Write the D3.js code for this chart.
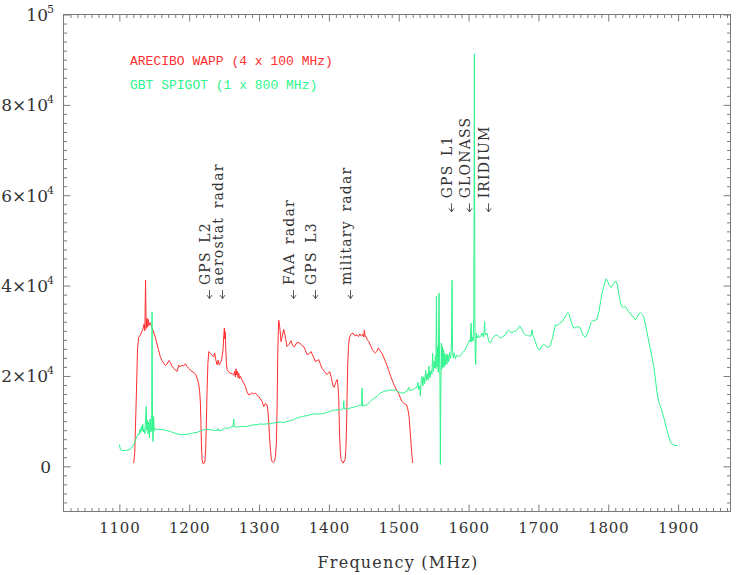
<!DOCTYPE html>
<html><head><meta charset="utf-8">
<script src="https://cdn.jsdelivr.net/npm/d3@7"></script>
<style>html,body{margin:0;padding:0;background:#fff;}</style>
</head><body><div id="chart"></div>
<script>
// ---------------- data ----------------
const xDomain = [1020, 1975];
const yDomain = [-10000, 100000];
const xMajorTicks = [1100, 1200, 1300, 1400, 1500, 1600, 1700, 1800, 1900];
const yMajorTicks = [0, 20000, 40000, 60000, 80000, 100000];
const yTickLabels = [["0", ""], ["2\u00d710", "4"], ["4\u00d710", "4"], ["6\u00d710", "4"], ["8\u00d710", "4"], ["10", "5"]];
const xLabel = "Frequency (MHz)";
const seriesNames = ["ARECIBO WAPP (4 x 100 MHz)", "GBT SPIGOT (1 x 800 MHz)"];
const seriesColors = ["#ff2e2e", "#2ef58c"];

const annoLabels = ["GPS L2", "aerostat radar", "FAA radar", "GPS L3", "military radar", "GPS L1", "GLONASS", "IRIDIUM"];
const annoFreqs  = [1228, 1246.5, 1349, 1380, 1430, 1575, 1601, 1628];
const annoLevels = [39000, 39000, 39000, 39000, 39000, 58200, 58200, 58200];

const arecibo = [
[1120.5,700],[1122,3000],[1124,14000],[1126,26000],[1127.5,28500],[1130,29000],[1132,29800],[1134,30500],
[1135.5,31500],[1136.5,30000],[1137.5,41200],[1138.3,30500],[1139.5,32800],[1140.5,30800],[1141.5,32500],
[1142.5,31200],[1144,31800],[1146,31000],[1148,30200],[1151,28800],[1154,27000],[1156,25800],[1158.5,24300],
[1161,23400],[1163.5,22800],[1166,22300],[1168,22600],[1171,23400],[1173,23000],[1175,22200],[1177.8,21700],
[1180,21300],[1182.6,21000],[1185,22400],[1187,22000],[1189.8,22400],[1192,22200],[1194.5,22700],[1197,22100],
[1199.3,21700],[1202,21200],[1204,21000],[1207,20700],[1209,20400],[1211,19600],[1213.5,18400],[1215,16500],
[1216,14000],[1216.8,9500],[1217.5,5000],[1218.4,1500],[1219.5,700],[1221,600],[1222.5,1200],[1223.6,4000],
[1224.6,10000],[1225.6,17000],[1226.8,22800],[1228,25400],[1230.3,25000],[1232.5,24600],[1235,24200],
[1236.5,25100],[1238,23600],[1239.9,22500],[1241.5,23500],[1243,22400],[1244.6,22900],[1246.5,23600],
[1248.4,25800],[1249.5,29000],[1250.3,30600],[1251,28200],[1251.6,29800],[1252.2,26500],[1253.2,23000],
[1254.2,21400],[1256.5,20900],[1259,20600],[1261.5,20500],[1263.7,20200],[1265,21000],[1266,19800],
[1267,21600],[1268,20200],[1269,21000],[1270,19600],[1271,20600],[1272,19400],[1273.5,19900],[1275.6,19100],
[1278,18400],[1280.4,17700],[1282.5,16600],[1285.1,15800],[1287,15900],[1290,16300],[1292,16000],
[1294.8,16200],[1297,15800],[1299.5,15500],[1302,14900],[1304.3,14400],[1306.7,13200],[1309,13900],
[1311.5,13600],[1312.8,12000],[1313.9,9600],[1315,6500],[1316.3,3700],[1317.5,1800],[1318.6,1100],
[1320.3,800],[1322,1100],[1323.5,2200],[1324.8,5200],[1325.8,13000],[1326.7,24300],[1327.6,30000],
[1328.2,32300],[1329.5,31000],[1331.5,27600],[1333.5,29000],[1335.3,30300],[1337.5,28800],[1340,26500],
[1343,27000],[1345.8,27800],[1348,26800],[1350.6,26400],[1354,27400],[1358.2,27300],[1361,26800],
[1363.9,26500],[1366,25800],[1368.7,24700],[1371.5,24900],[1374.5,25400],[1377.5,24300],[1380.6,23200],
[1383,23400],[1385.4,23600],[1387.8,22600],[1390.2,21700],[1393.5,21000],[1397.3,20300],[1399.5,20700],
[1401.1,21000],[1403,19900],[1404.5,18800],[1406.3,17600],[1407.8,17500],[1409.5,18500],[1411.7,19200],
[1413,17800],[1414,15500],[1414.8,10000],[1415.5,5900],[1416.5,3000],[1417.4,1500],[1420.3,700],
[1423.2,1500],[1424.2,3500],[1425,7400],[1426,15000],[1426.9,22100],[1428,26500],[1429.3,28400],
[1431.5,29200],[1434.6,29500],[1437,28900],[1440.3,29100],[1442.5,28700],[1444.5,29300],[1446.5,28800],
[1448.9,29300],[1450,28600],[1450.8,30200],[1451.8,28800],[1453.2,28700],[1455,28000],[1457,27600],
[1460,26600],[1462,25900],[1464.2,25400],[1466.5,25100],[1468.5,25400],[1470.9,26200],[1473.5,25500],
[1476.1,25000],[1478,24300],[1480.9,23200],[1483.2,22300],[1485.2,21400],[1488.5,19900],[1492.3,18400],
[1495.5,17300],[1499.5,16200],[1502,15300],[1504.2,14400],[1507.5,13900],[1511.4,13600],[1513.2,12500],
[1514.8,11000],[1516,8500],[1517.2,5900],[1518.5,3000],[1520,750]
];

const gbt = [
[1100,4800],[1101.5,3700],[1105,3500],[1110,3500],[1114,3700],[1117,4000],[1120.5,4800],[1123,5800],
[1125.3,6600],[1127,7200],[1128.5,7000],[1129.5,8200],[1130.5,7500],[1131.5,8800],[1132.5,7800],
[1133.5,9300],[1134.5,7600],[1135.5,8300],[1136.5,7200],[1137.5,10500],[1138.5,13300],[1139.3,8000],
[1140.2,10200],[1141,7200],[1142,9800],[1143,6300],[1144,10500],[1145,7600],[1146.2,8500],[1146.8,34200],
[1147.5,8000],[1148.2,5500],[1149,11000],[1150,7800],[1151.5,8400],[1154,8100],[1158,8200],[1163.5,8100],
[1168,7900],[1173,7700],[1178,7400],[1182.6,7200],[1187,7000],[1192,7000],[1197,7100],[1201.6,7200],
[1206,7400],[1211.2,7500],[1216,7800],[1220.7,8100],[1225,8200],[1230.3,8100],[1235,8000],[1239.9,7900],
[1241,8400],[1242,7900],[1247,8000],[1251.8,8600],[1254,8300],[1259,8700],[1262.8,8800],[1263.7,10500],
[1264.5,8700],[1268,8700],[1273.3,8800],[1278,8800],[1282.9,8800],[1287,9000],[1292.3,9200],[1297,9200],
[1302,9400],[1306,9300],[1311.5,9400],[1316,9400],[1321,9600],[1326,9700],[1330.7,9800],[1335,9700],
[1340,9900],[1345,10100],[1349.7,10300],[1354,10700],[1359.2,10900],[1364,11100],[1368.7,11200],
[1373,11400],[1378.2,11600],[1383,11600],[1387.8,11600],[1392,11700],[1397.3,11900],[1402,12200],
[1406.9,12400],[1411.7,12500],[1416.4,12500],[1420.5,12800],[1421.2,14500],[1422,12700],[1426,12700],
[1430.7,12900],[1435,13100],[1440.3,13300],[1444,13500],[1446.8,13500],[1447.5,17300],[1448.3,13300],
[1450,13400],[1454.6,13600],[1459.4,14400],[1464,15000],[1469,15500],[1473.7,16200],[1478.5,16600],
[1483,16700],[1488,16900],[1491.5,16800],[1495.2,16900],[1499,16500],[1502.3,16300],[1507.1,16200],
[1510,16500],[1512.5,16700],[1514.3,17500],[1515.5,16800],[1520,16900],[1524,17400],[1526.2,17500],
[1527.5,18600],[1528.5,17000],[1530,17800],[1531,15600],[1532.3,19500],[1533.4,19900],[1534.5,17800],
[1535.8,19800],[1537,18300],[1538.5,21300],[1539.5,19000],[1540.6,20500],[1542,19100],[1543.2,22200],
[1544.5,19600],[1546.3,21200],[1547.5,20400],[1548.5,25000],[1549.5,21000],[1550.5,23200],[1551.5,21800],
[1552.5,24500],[1553.3,21600],[1553.9,37600],[1554.8,22000],[1555.7,26400],[1556.6,20800],[1557.2,30600],
[1557.7,38300],[1558.4,24000],[1559,19500],[1559.6,400],[1560.2,16000],[1561,27300],[1561.7,21500],
[1562.5,26500],[1563.3,21800],[1564.2,25800],[1565,22000],[1566,25000],[1566.8,22400],[1568,24700],
[1569,22600],[1570.2,24800],[1571.5,23100],[1572.7,25200],[1573.8,23800],[1575,24900],[1575.8,30000],
[1576.4,41200],[1577,26000],[1578,24000],[1579.5,25100],[1581.1,23800],[1583,24600],[1585.5,24300],
[1588.3,24500],[1591,25100],[1593.5,25500],[1595.4,25900],[1597.5,26600],[1599.5,27300],[1601.6,28000],
[1602.5,27600],[1603.6,31700],[1604.5,27500],[1605.5,28600],[1606.5,27800],[1607.5,33000],[1608.3,91300],
[1609,32400],[1609.5,24500],[1610.2,22500],[1611,29500],[1612.2,28400],[1614,29000],[1615.5,28400],
[1616.9,28700],[1619,29500],[1621,28600],[1622.3,30000],[1623,32000],[1623.8,29000],[1626.5,29500],
[1628.8,27600],[1631.2,27300],[1633.5,28100],[1636,28700],[1638.5,29000],[1640.8,29100],[1643,28700],
[1645.5,28400],[1649,28700],[1652.7,29100],[1655,29800],[1657.4,30200],[1660,29700],[1662.3,29500],
[1664.5,29900],[1667,29800],[1670,30400],[1673.2,31100],[1675,30600],[1676.6,30200],[1679,29500],
[1681.3,29100],[1684,28900],[1686,28900],[1689,28800],[1690.9,30200],[1691.8,29000],[1693.5,28600],
[1695.6,27600],[1698,26500],[1700.4,25800],[1702.5,25900],[1705,26700],[1707.6,27000],[1710,26700],
[1712.3,26400],[1715,26400],[1717.1,26700],[1719,27800],[1720.4,28500],[1722.5,30200],[1724.3,31300],
[1727.5,31200],[1730,31600],[1733.9,32000],[1737.2,32800],[1740,33600],[1742.4,34000],[1743.4,33800],
[1745.8,32700],[1748,31500],[1750.5,30600],[1753,30700],[1755.3,30900],[1759.2,30800],[1762,29700],
[1764,29000],[1767.2,28500],[1769.5,29300],[1772,30200],[1775.4,31800],[1778,32200],[1781,32300],
[1784,32600],[1787,34500],[1789,36500],[1791.1,38300],[1793.5,39800],[1796.9,41500],[1799,41000],
[1801.5,40000],[1804,39600],[1806.5,40200],[1809,40800],[1811.2,40900],[1813,40200],[1815,38300],
[1817.5,36200],[1819.8,35300],[1822,35200],[1824.5,35400],[1826.9,34800],[1829,34200],[1831.7,33900],
[1834,33300],[1836.5,32900],[1838.8,32400],[1841,32900],[1843.5,33700],[1846,34000],[1848.5,33600],
[1850.8,33100],[1853,31500],[1855.5,29600],[1858,27600],[1860.5,25800],[1863,23800],[1865.1,22100],
[1867.5,19300],[1869.9,16200],[1872,14500],[1874.6,13300],[1877.5,11900],[1880.4,10300],[1883.5,8300],
[1886.5,6600],[1889,5400],[1891.3,4900],[1894,4700],[1897,4600],[1899.4,4600]
];

// ---------------- drawing ----------------
const W = 736, H = 575;
const L = 63.5, R = 730.5, T = 14.5, B = 511.5;
const axisColor = "#7a7a7a", textColor = "#333";
const serif = "'DejaVu Serif', serif";

const x = d3.scaleLinear().domain(xDomain).range([L, R]);
const y = d3.scaleLinear().domain(yDomain).range([B, T]);

const svg = d3.select("#chart").append("svg").attr("width", W).attr("height", H)
  .style("background", "#fff");

const xMinor = d3.range(1030, 1975, 10).filter(v => v % 100 !== 0);
const yMinor = d3.range(-8000, 100000, 2000).filter(v => v % 20000 !== 0);

function styleAxis(g) {
  g.select(".domain").remove();
  g.selectAll(".tick line").attr("stroke", axisColor).attr("stroke-width", 1);
  g.selectAll(".tick text").remove();
}
const majorLen = 7, minorLen = 3.5;
[[xMajorTicks, majorLen], [xMinor, minorLen]].forEach(([vals, len]) => {
  svg.append("g").attr("transform", `translate(0,${B})`)
    .call(d3.axisBottom(x).tickValues(vals).tickSize(-len).tickSizeOuter(0)).call(styleAxis);
  svg.append("g").attr("transform", `translate(0,${T})`)
    .call(d3.axisTop(x).tickValues(vals).tickSize(-len).tickSizeOuter(0)).call(styleAxis);
});
[[yMajorTicks, majorLen], [yMinor, minorLen]].forEach(([vals, len]) => {
  svg.append("g").attr("transform", `translate(${L},0)`)
    .call(d3.axisLeft(y).tickValues(vals).tickSize(-len).tickSizeOuter(0)).call(styleAxis);
  svg.append("g").attr("transform", `translate(${R},0)`)
    .call(d3.axisRight(y).tickValues(vals).tickSize(-len).tickSizeOuter(0)).call(styleAxis);
});

svg.append("rect").attr("x", L).attr("y", T).attr("width", R - L).attr("height", B - T)
  .attr("fill", "none").attr("stroke", axisColor).attr("stroke-width", 1);

// x tick labels
svg.append("g").selectAll("text").data(xMajorTicks).join("text")
  .attr("x", d => x(d) + 0.5).attr("y", 533)
  .attr("text-anchor", "middle").attr("font-family", serif).attr("font-size", 15)
  .attr("letter-spacing", "0.8px").attr("fill", textColor).text(d => d);

// y tick labels
yMajorTicks.forEach((v, i) => {
  const [base, sup] = yTickLabels[i];
  const t = svg.append("text").attr("x", sup ? 54 : 51).attr("y", y(v) + 6.5)
    .attr("text-anchor", "end").attr("font-family", serif).attr("font-size", 17)
    .attr("fill", textColor);
  t.append("tspan").text(base);
  if (sup) t.append("tspan").attr("dy", -8).attr("dx", -1).attr("font-size", 11).text(sup);
});

// x axis title
svg.append("text").attr("x", 398).attr("y", 568).attr("text-anchor", "middle")
  .attr("font-family", serif).attr("font-size", 16).attr("letter-spacing", "1.2px")
  .attr("fill", textColor).text(xLabel);

// series
const line = d3.line().x(d => x(d[0])).y(d => y(d[1]));
[arecibo, gbt].forEach((data, i) => {
  svg.append("path").datum(data).attr("d", line).attr("fill", "none")
    .attr("stroke", seriesColors[i]).attr("stroke-width", 1).attr("stroke-linejoin", "round");
});

// legend
seriesNames.forEach((name, i) => {
  svg.append("text").attr("x", 130).attr("y", 65 + i * 24)
    .attr("font-family", "'Liberation Mono', monospace").attr("font-size", 13)
    .attr("fill", seriesColors[i]).text(name);
});

// annotations
annoLabels.forEach((lab, i) => {
  const ax = Math.round(x(annoFreqs[i])) + 0.5;
  const ay = y(annoLevels[i]);
  svg.append("path")
    .attr("d", `M${ax},${ay}V${ay + 8.5}M${ax - 2.5},${ay + 5}L${ax},${ay + 8.5}L${ax + 2.5},${ay + 5}`)
    .attr("fill", "none").attr("stroke", "#444").attr("stroke-width", 0.9);
  svg.append("text")
    .attr("transform", `translate(${ax},${ay - 5}) rotate(-90)`)
    .attr("font-family", serif).attr("font-size", 14).attr("letter-spacing", "1.2px")
    .attr("word-spacing", "3px").attr("fill", textColor).text(lab);
});
</script></body></html>
